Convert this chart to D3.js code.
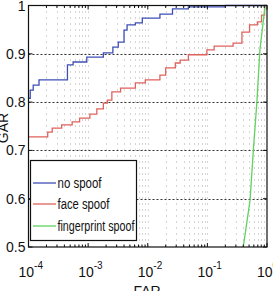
<!DOCTYPE html>
<html><head><meta charset="utf-8">
<script src="https://cdn.jsdelivr.net/npm/d3@7"></script>
<style>body{margin:0;background:#fff}svg{display:block}text{font-family:"Liberation Sans",Arial,sans-serif}</style>
</head><body>
<script>
const seriesNames = ["no spoof", "face spoof", "fingerprint spoof"];
const seriesColors = ["#3d4fb5", "#e0625c", "#5fd25f"];
const noSpoofFAR = [1e-4, 1.07e-4, 1.2e-4, 1.5e-4, 4.5e-4, 5.6e-4, 9.5e-4, 1.8e-3, 2.6e-3, 3.2e-3, 4.0e-3, 4.5e-3, 6.2e-3, 8.1e-3, 1.6e-2, 2.6e-2, 4.8e-2, 0.2, 1];
const noSpoofGAR = [0.808, 0.825, 0.835, 0.846, 0.877, 0.883, 0.893, 0.902, 0.914, 0.924, 0.949, 0.96, 0.964, 0.974, 0.982, 0.993, 0.997, 1.0, 1.0];
const faceFAR = [1e-4, 2.1e-4, 2.5e-4, 3.6e-4, 5.4e-4, 7.2e-4, 1.07e-3, 1.4e-3, 1.8e-3, 2.1e-3, 2.5e-3, 3.5e-3, 6.2e-3, 9.1e-3, 1.6e-2, 2.0e-2, 2.9e-2, 3.5e-2, 4.8e-2, 9.8e-2, 0.13, 0.27, 0.38, 0.51, 0.69, 0.81, 0.91, 1];
const faceGAR = [0.728, 0.738, 0.746, 0.753, 0.759, 0.767, 0.775, 0.786, 0.798, 0.804, 0.821, 0.829, 0.840, 0.846, 0.856, 0.871, 0.881, 0.887, 0.898, 0.908, 0.916, 0.922, 0.945, 0.960, 0.966, 0.98, 1.0, 1.0];
const fingerFAR = [0.40, 0.52, 0.59, 0.68, 0.76, 0.93];
const fingerGAR = [0.5, 0.597, 0.70, 0.804, 0.908, 1.0];
const yTicks = [0.5, 0.6, 0.7, 0.8, 0.9, 1];
const yTickLabels = ["0.5", "0.6", "0.7", "0.8", "0.9", "1"];
const xTicks = [1e-4, 1e-3, 1e-2, 1e-1, 1];
const xTickExps = ["-4", "-3", "-2", "-1", "0"];

const W = 273, H = 291;
const L = 28.5, R = 267, T = 5.5, B = 247;
const svg = d3.select("body").append("svg").attr("width", W).attr("height", H);
const x = d3.scaleLog().domain([1e-4, 1]).range([L, R]);
const y = d3.scaleLinear().domain([0.5, 1]).range([B, T]);

const minor = [];
for (let e = -4; e < 0; e++) for (let m = 1; m <= 9; m++) minor.push(m * Math.pow(10, e));
const g = svg.append("g");
g.selectAll(".vg").data(minor.filter(v => v > 1e-4)).enter().append("line")
  .attr("x1", d => Math.round(x(d)) + 0.5).attr("x2", d => Math.round(x(d)) + 0.5)
  .attr("y1", T).attr("y2", B)
  .attr("stroke", "#aaa").attr("stroke-width", 1).attr("stroke-dasharray", "1,5");
g.selectAll(".hg").data(yTicks.slice(1, -1)).enter().append("line")
  .attr("x1", L).attr("x2", R).attr("y1", d => Math.round(y(d)) + 0.5).attr("y2", d => Math.round(y(d)) + 0.5)
  .attr("stroke", "#333").attr("stroke-width", 1).attr("stroke-dasharray", "2,2");

const sets = [
  {far: noSpoofFAR, gar: noSpoofGAR, curve: d3.curveStepAfter},
  {far: faceFAR, gar: faceGAR, curve: d3.curveStepAfter},
  {far: fingerFAR, gar: fingerGAR, curve: d3.curveLinear}
];
sets.forEach((s, i) => {
  const pts = s.far.map((f, k) => [f, s.gar[k]]);
  svg.append("path").datum(pts)
    .attr("d", d3.line().x(d => x(d[0])).y(d => y(d[1])).curve(s.curve))
    .attr("fill", "none").attr("stroke", seriesColors[i]).attr("stroke-width", 1.3);
});

svg.append("rect").attr("x", L).attr("y", T).attr("width", R - L).attr("height", B - T)
  .attr("fill", "none").attr("stroke", "#111").attr("stroke-width", 1.2);
yTicks.forEach(v => {
  svg.append("line").attr("x1", L).attr("x2", L + 4).attr("y1", y(v)).attr("y2", y(v)).attr("stroke", "#111");
  svg.append("line").attr("x1", R).attr("x2", R - 4).attr("y1", y(v)).attr("y2", y(v)).attr("stroke", "#111");
});
svg.selectAll(".yl").data(yTicks).enter().append("text")
  .attr("x", L - 3).attr("y", d => y(d) + 5).attr("text-anchor", "end")
  .attr("font-size", 14).attr("fill", "#111").text((d, i) => yTickLabels[i]);
minor.concat([1]).forEach(v => {
  const major = xTicks.includes(v);
  const len = major ? 4 : 2.5;
  svg.append("line").attr("x1", x(v)).attr("x2", x(v)).attr("y1", B).attr("y2", B - len).attr("stroke", "#111");
  svg.append("line").attr("x1", x(v)).attr("x2", x(v)).attr("y1", T).attr("y2", T + len).attr("stroke", "#111");
});
xTicks.forEach((v, i) => {
  const t = svg.append("text").attr("x", x(v) - 10).attr("y", 277).attr("font-size", 14).attr("fill", "#111");
  t.append("tspan").text("10");
  t.append("tspan").attr("dy", -8).attr("font-size", 10).text(xTickExps[i]);
});
svg.append("text").attr("transform", `translate(7.5,128) rotate(-90)`).attr("text-anchor", "middle")
  .attr("font-size", 14).attr("fill", "#111").text("GAR");
svg.append("text").attr("x", 147).attr("y", 296).attr("text-anchor", "middle")
  .attr("font-size", 14).attr("fill", "#111").text("FAR");

const lg = svg.append("g");
lg.append("rect").attr("x", 30.5).attr("y", 160.5).attr("width", 106).attr("height", 80)
  .attr("fill", "#fff").attr("stroke", "#111").attr("stroke-width", 1.2);
const ly = [183, 204, 226];
const lw = [44, 52, 77];
seriesNames.forEach((n, i) => {
  lg.append("line").attr("x1", 33).attr("x2", 56).attr("y1", ly[i]).attr("y2", ly[i])
    .attr("stroke", seriesColors[i]).attr("stroke-width", 1.3);
  lg.append("text").attr("x", 57.5).attr("y", ly[i] + 5).attr("font-size", 14).attr("fill", "#111")
    .attr("textLength", lw[i]).attr("lengthAdjust", "spacingAndGlyphs").text(n);
});
</script>
</body></html>
